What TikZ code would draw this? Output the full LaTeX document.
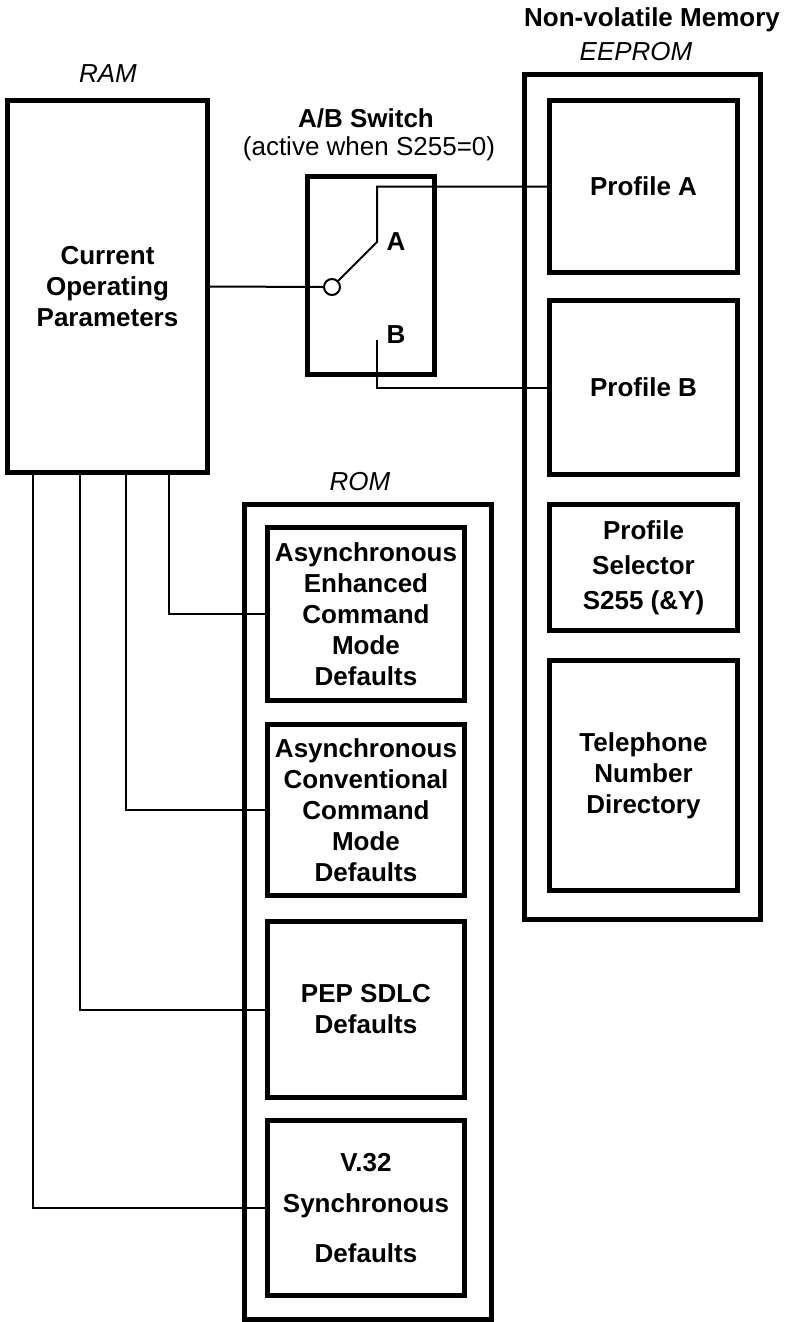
\documentclass[tikz,border=0pt]{standalone}
\usepackage{fontspec}
\setmainfont{Liberation Sans}
\usetikzlibrary{positioning}
\tikzstyle{block} = [rectangle, draw, line width=5pt, align=center, font=\bfseries, inner sep=0pt]
\tikzstyle{frame} = [rectangle, draw, line width=5pt]
\tikzstyle{wire} = [draw, line width=2pt]
\tikzstyle{heading} = [inner sep=0pt, anchor=base, font=\itshape]
\tikzstyle{bheading} = [inner sep=0pt, anchor=base, font=\bfseries]

\begin{document}
\fontsize{26}{31}\selectfont
\begin{tikzpicture}[x=1pt, y=-1pt]
        \useasboundingbox (0,0) rectangle (786,1322);
        % RAM
        \node[block, minimum width=200pt, minimum height=372pt] (ram) at (107.5,286.5) {Current\\Operating\\Parameters};
        \node[heading] (ramt) at (108,82) {RAM};

        % A/B switch
        \node[frame, minimum width=127pt, minimum height=198pt] (sw) at (371,275.5) {};
        \node[bheading] (swt) at (366,127) {A/B Switch};
        \node[inner sep=0pt, anchor=base] (swn) at (369,155) {(active when S255=0)};
        \node[circle, draw, line width=2pt, minimum size=16pt, inner sep=0pt] (pivot) at (332,287) {};
        \coordinate (cona) at (377,242);
        \coordinate (conb) at (377,340);
        \node[bheading] (la) at (396,250) {A};
        \node[bheading] (lb) at (396,343) {B};

        % EEPROM
        \node[frame, minimum width=236pt, minimum height=845pt] (eeprom) at (642.5,497) {};
        \node[bheading] (nvt) at (652,27) {Non-volatile Memory};
        \node[heading] (eet) at (636,61) {EEPROM};
        \node[block, minimum width=188pt, minimum height=172pt] (profa) at (643.5,186.5) {Profile A};
        \node[block, minimum width=188pt, minimum height=174pt, below=23pt of profa] (profb) {Profile B};
        \node[block, minimum width=188pt, minimum height=126pt, below=25pt of profb] (sel) {Profile\\[4pt]Selector\\[4pt]S255 (\&Y)};
        \node[block, minimum width=188pt, minimum height=230pt, below=25pt of sel] (tel) {Telephone\\Number\\Directory};

        % ROM
        \node[frame, minimum width=247pt, minimum height=815pt] (rom) at (368,912) {};
        \node[heading] (romt) at (360,490) {ROM};
        \node[block, minimum width=197pt, minimum height=173pt] (enh) at (366,614) {Asynchronous\\Enhanced\\Command\\Mode\\Defaults};
        \node[block, minimum width=197pt, minimum height=171pt, below=19pt of enh] (conv) {Asynchronous\\Conventional\\Command\\Mode\\Defaults};
        \node[block, minimum width=197pt, minimum height=176pt, below=21pt of conv] (pep) {PEP SDLC\\Defaults};
        \node[block, minimum width=197pt, minimum height=175pt, below=18pt of pep] (v32) {V.32\\[10pt]Synchronous\\[19pt]Defaults};

        \path[wire] (ram.east) -- (pivot.west);
        \path[wire] (pivot.north east) -- (cona) |- (profa.west);
        \path[wire] (conb) |- (profb.west);
        \path[wire] ([xshift=61.5pt]ram.south) |- (enh.west);
        \path[wire] ([xshift=18.5pt]ram.south) |- (conv.west);
        \path[wire] ([xshift=-27.5pt]ram.south) |- (pep.west);
        \path[wire] ([xshift=-74.5pt]ram.south) |- (v32.west);
\end{tikzpicture}
\end{document}
